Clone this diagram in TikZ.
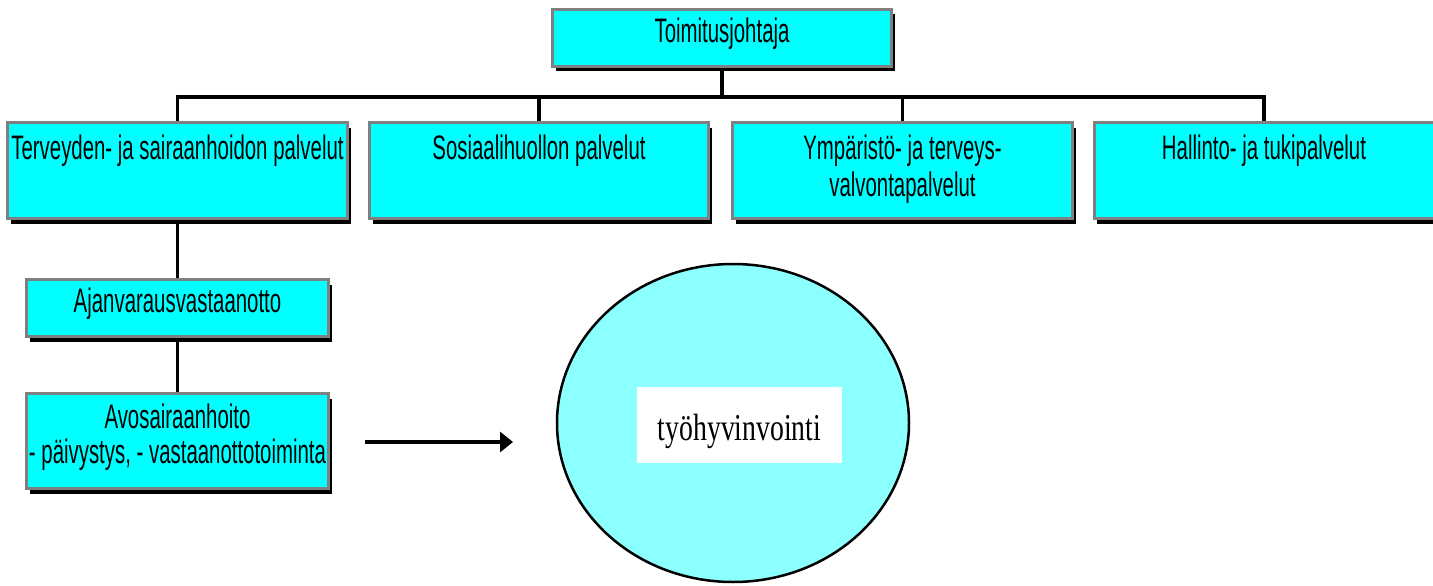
\documentclass[tikz,border=0pt]{standalone}
\usepackage{fontspec}
\setmainfont{Liberation Sans}
\newfontfamily\serifa{Liberation Serif}
\usetikzlibrary{shadows,arrows.meta,shapes.geometric}
\definecolor{boxcyan}{RGB}{0,255,255}
\definecolor{boxgray}{RGB}{128,128,128}
\definecolor{ellfill}{RGB}{140,255,255}
\newcommand\sq[1]{\scalebox{0.6}[1]{#1}}
\newcommand\bx[5]{\parbox[c][#2][t]{#1}{\centering\fontsize{34}{#4}\selectfont\rule{0pt}{#3}#5}}
\begin{document}
\begin{tikzpicture}[x=1pt,y=1pt,
  orgbox/.style={draw=boxgray, fill=boxcyan, line width=3pt, inner sep=0pt, outer sep=1.5pt,
    drop shadow={shadow xshift=3pt,shadow yshift=-5pt,fill=black,opacity=1}},
  conn/.style={line width=3.5pt}]
\useasboundingbox (0,0) rectangle (1433,-586);
% boxes
\node[orgbox] (top) at (722,-38) {\bx{339pt}{57pt}{33.5pt}{36pt}{\sq{Toimitusjohtaja}}};
\node[orgbox] (b1) at (177.5,-170.5) {\bx{340pt}{96pt}{37pt}{37pt}{\sq{Terveyden- ja sairaanhoidon palvelut}}};
\node[orgbox] (b2) at (539,-170.5) {\bx{339pt}{96pt}{37pt}{37pt}{\sq{Sosiaalihuollon palvelut}}};
\node[orgbox] (b3) at (902.5,-170.5) {\bx{340pt}{96pt}{37pt}{37pt}{\sq{Ympäristö- ja terveys-}\\\sq{valvontapalvelut}}};
\node[orgbox] (b4) at (1264,-170.5) {\bx{340pt}{96pt}{37pt}{37pt}{\sq{Hallinto- ja tukipalvelut}}};
\node[orgbox] (ajan) at (177.5,-308) {\bx{302pt}{57pt}{32.5pt}{36pt}{\sq{Ajanvarausvastaanotto}}};
\node[orgbox] (avo) at (177.5,-441) {\bx{302pt}{95pt}{34.5pt}{35pt}{\sq{Avosairaanhoito}\\\sq{- päivystys, - vastaanottotoiminta}}};
% connectors
\coordinate (bus) at (722,-97);
\draw[conn] (top.south) -- (bus);
\foreach \n in {b1,b2,b3,b4} {\draw[conn] (\n.north) |- (bus);}
\draw[conn] (b1.south) -- (ajan.north);
\draw[conn] (ajan.south) -- (avo.north);
% ellipse
\node[draw, line width=2.5pt, fill=ellfill, ellipse, minimum width=352pt, minimum height=318pt, inner sep=0pt] (ell) at (733,-423) {};
\node[fill=white, minimum width=205pt, minimum height=76pt, inner sep=0pt, text height=30pt, text depth=0pt] (wb) at (739.5,-425)
  {\serifa\fontsize{38}{40}\selectfont\scalebox{0.73}[1]{työhyvinvointi}};
% arrow
\coordinate (as) at (365,-442);
\coordinate (ae) at (513,-442);
\draw[conn, -{Triangle[length=13pt,width=20pt]}] (as) -- (ae);
\end{tikzpicture}
\end{document}
